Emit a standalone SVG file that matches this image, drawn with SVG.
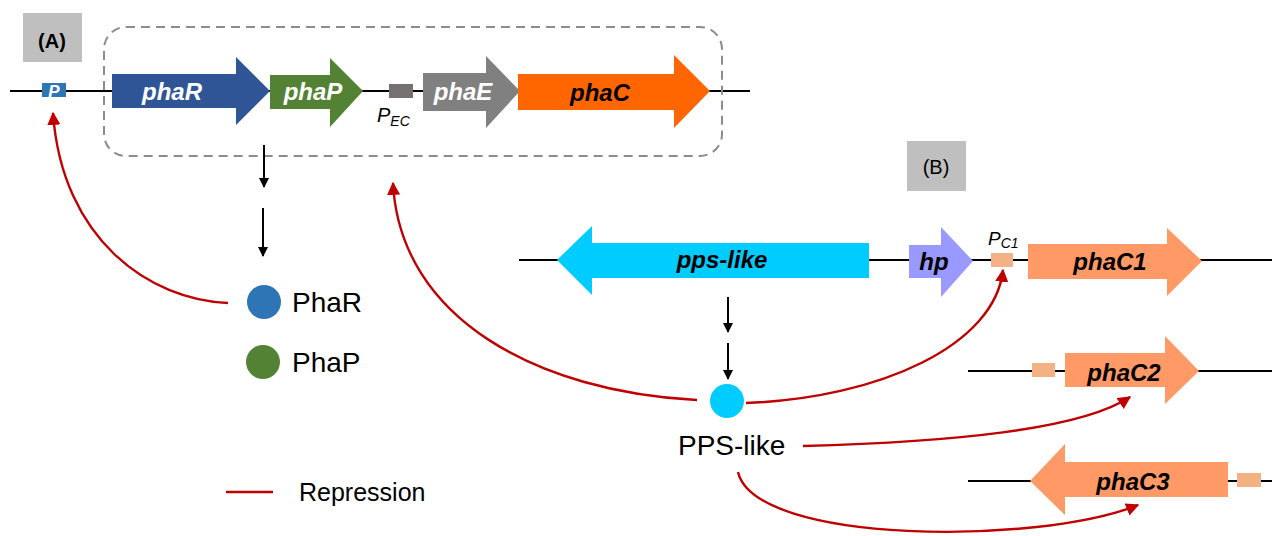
<svg xmlns="http://www.w3.org/2000/svg" width="1272" height="536" viewBox="0 0 1272 536">
  <style>
    .dna { stroke: #000; stroke-width: 2.2; fill: none; }
    .gene { font-family: "Liberation Sans", Arial, sans-serif; font-weight: bold; font-style: italic; font-size: 24px; text-anchor: middle; }
    .lbl { font-family: "Liberation Sans", Arial, sans-serif; font-size: 28px; fill: #000; }
    .panel { fill: #bfbfbf; }
    .tag { font-family: "Liberation Sans", Arial, sans-serif; font-size: 20px; text-anchor: middle; }
    .flow { stroke: #000; stroke-width: 2; fill: none; marker-end: url(#blk); }
    .repa { stroke: #c00000; stroke-width: 2.4; fill: none; marker-end: url(#red); }
  </style>
  <defs>
    <marker id="blk" viewBox="0 0 10 10" refX="9" refY="5" markerWidth="5" markerHeight="5" orient="auto" markerUnits="strokeWidth">
      <path d="M0,0 L10,5 L0,10 z" fill="#000"/>
    </marker>
    <marker id="red" viewBox="0 0 10 10" refX="9" refY="5" markerWidth="5.5" markerHeight="5.5" orient="auto" markerUnits="strokeWidth">
      <path d="M0,0 L10,5 L0,10 z" fill="#c00000"/>
    </marker>
  </defs>

  <!-- Panel A -->
  <g id="labelA">
    <rect class="panel" x="23" y="13" width="59" height="49"/>
    <text class="tag" x="52" y="48" font-weight="bold">(A)</text>
  </g>
  <line class="dna" x1="10" y1="91" x2="750" y2="91"/>
  <g id="promoterP">
    <rect x="42" y="83" width="24" height="14" fill="#2e75b6"/>
    <text x="54" y="97" font-family="Liberation Sans, Arial, sans-serif" font-size="17" font-weight="bold" font-style="italic" fill="#fff" text-anchor="middle">P</text>
  </g>
  <rect id="operon" x="104" y="27" width="618" height="129" rx="22" ry="22" fill="none" stroke="#8c8c8c" stroke-width="2" stroke-dasharray="9 6"/>
  <g id="phaR">
    <path d="M112,74 H236 V57 L270,91 L236,125 V108 H112 z" fill="#2f5597"/>
    <text class="gene" x="172" y="100" fill="#fff">phaR</text>
  </g>
  <g id="phaP">
    <path d="M270,75 H330 V58 L363,91 L330,127 V109 H270 z" fill="#548235"/>
    <text class="gene" x="313" y="100" fill="#fff">phaP</text>
  </g>
  <g id="promoterEC">
    <rect x="389" y="84" width="24" height="14" fill="#767171"/>
    <text x="377" y="122" font-family="Liberation Sans, Arial, sans-serif" font-size="20" font-style="italic">P<tspan font-size="14" dy="4">EC</tspan></text>
  </g>
  <g id="phaE">
    <path d="M423,73 H486 V56 L520,91 L486,128 V111 H423 z" fill="#808080"/>
    <text class="gene" x="463" y="100" fill="#fff">phaE</text>
  </g>
  <g id="phaC">
    <path d="M518,74 H674 V55 L710,91 L674,128 V110 H518 z" fill="#ff6600"/>
    <text class="gene" x="600" y="101" fill="#000">phaC</text>
  </g>
  <g id="PhaR">
    <circle cx="264" cy="302" r="17" fill="#2e75b6"/>
    <text class="lbl" x="292" y="312">PhaR</text>
  </g>
  <g id="PhaP">
    <circle cx="263" cy="362" r="17" fill="#548235"/>
    <text class="lbl" x="292" y="372">PhaP</text>
  </g>
  <g id="legend">
    <line x1="226" y1="492" x2="273" y2="492" stroke="#c00000" stroke-width="2.4"/>
    <text x="299" y="501" font-family="Liberation Sans, Arial, sans-serif" font-size="25">Repression</text>
  </g>

  <!-- Panel B -->
  <g id="labelB">
    <rect class="panel" x="907" y="141" width="59" height="50"/>
    <text class="tag" x="936" y="174">(B)</text>
  </g>
  <line class="dna" x1="519" y1="260" x2="1272" y2="260"/>
  <line class="dna" x1="968" y1="371" x2="1272" y2="371"/>
  <line class="dna" x1="968" y1="481" x2="1272" y2="481"/>
  <g id="ppsLike">
    <path d="M869,243 H592 V226 L557,260 L592,295 V278 H869 z" fill="#00ccff"/>
    <text class="gene" x="722" y="268" fill="#000">pps-like</text>
  </g>
  <g id="hp">
    <path d="M909,245 H941 V227 L973,261 L941,297 V278 H909 z" fill="#9999ff"/>
    <text class="gene" x="934" y="270" fill="#000">hp</text>
  </g>
  <g id="promoterC1">
    <rect x="991" y="253" width="22" height="14" fill="#f4b183"/>
    <text x="988" y="245" font-family="Liberation Sans, Arial, sans-serif" font-size="19" font-style="italic">P<tspan font-size="14" dy="3">C1</tspan></text>
  </g>
  <g id="phaC1">
    <path d="M1028,244 H1167 V228 L1202,261 L1167,296 V279 H1028 z" fill="#ff9966"/>
    <text class="gene" x="1110" y="270" fill="#000">phaC1</text>
  </g>
  <g id="phaC2">
    <rect x="1032" y="363" width="23" height="14" fill="#f4b183"/>
    <path d="M1065,353 H1165 V336 L1199,371 L1165,404 V387 H1065 z" fill="#ff9966"/>
    <text class="gene" x="1124" y="381" fill="#000">phaC2</text>
  </g>
  <g id="phaC3">
    <rect x="1237" y="473" width="24" height="14" fill="#f4b183"/>
    <path d="M1228,462 H1065 V444 L1030,481 L1065,515 V497 H1228 z" fill="#ff9966"/>
    <text class="gene" x="1133" y="490" fill="#000">phaC3</text>
  </g>
  <g id="PPSlike">
    <circle cx="727" cy="401" r="17" fill="#00ccff"/>
    <text class="lbl" x="678" y="455">PPS-like</text>
  </g>

  <!-- Connectors -->
  <g id="connectors">
    <line class="flow" x1="264" y1="145" x2="264" y2="187"/>
    <line class="flow" x1="263" y1="208" x2="263" y2="256"/>
    <line class="flow" x1="728" y1="297" x2="728" y2="332"/>
    <line class="flow" x1="728" y1="343" x2="728" y2="379"/>
    <path class="repa" d="M228,303 C150,300 62,240 53,113"/>
    <path class="repa" d="M697,400 C540,392 400,320 393,183"/>
    <path class="repa" d="M746,403 C880,398 995,345 1003,270"/>
    <path class="repa" d="M803,446 C950,442 1080,430 1130,397"/>
    <path class="repa" d="M738,472 C755,545 1040,545 1138,505"/>
  </g>
</svg>
